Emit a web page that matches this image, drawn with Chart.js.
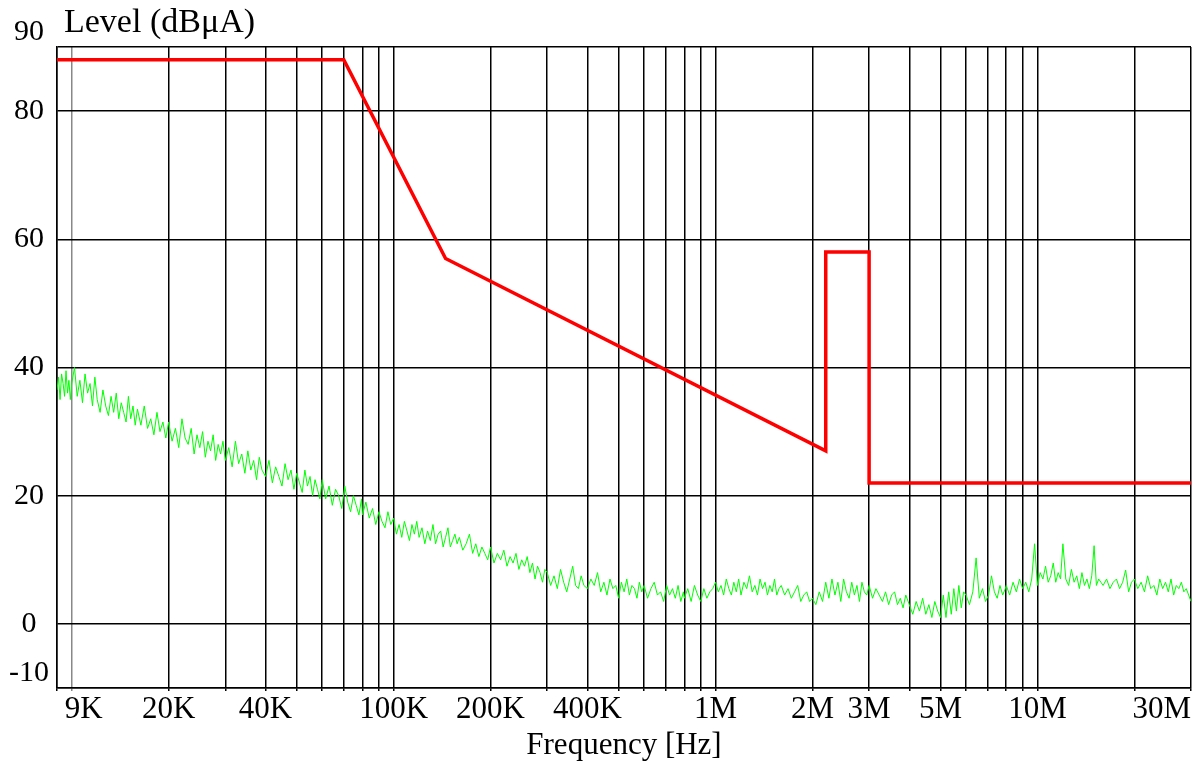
<!DOCTYPE html>
<html>
<head>
<meta charset="utf-8">
<script src="https://cdn.jsdelivr.net/npm/chart.js@4"></script>
<style>
  html, body { margin: 0; padding: 0; background: #fff; }
</style>
</head>
<body>
<canvas id="emi" width="1204" height="766"></canvas>
<script>
// texts
const yTitle = 'Level (dBμA)';
const xTitle = 'Frequency [Hz]';

// axis ticks
const xTickValues = [9e3, 2e4, 4e4, 1e5, 2e5, 4e5, 1e6, 2e6, 3e6, 5e6, 1e7, 3e7];
const xTickLabels = [' 9K', '20K', '40K', '100K', '200K', '400K', '1M', '2M', '3M', '5M', '10M', '30M'];
const yTickValues = [-10, 0, 20, 40, 60, 80, 90];

// limit line (red)
const limitFreq = [9e3, 70e3, 145e3, 2.2e6, 2.2e6, 3e6, 3e6, 30e6];
const limitLevel = [88, 88, 57, 27, 58, 58, 22, 22];

// measured scan (green), frequency in kHz
const scanFreqKHz = [
  9, 9.1, 9.2, 9.3, 9.4, 9.5, 9.6, 9.7, 9.8, 9.9,
  // 10K - 100K
  10, 10.2, 10.4, 10.6, 10.8, 11, 11.2, 11.4, 11.6, 11.8,
  12, 12.25, 12.5, 12.75, 13, 13.25, 13.5, 13.75, 14, 14.25, 14.5, 14.75, 15, 15.25, 15.5, 15.75,
  16, 16.4, 16.8, 17.2, 17.6, 18, 18.4, 18.8, 19.2, 19.6,
  20, 20.5, 21, 21.5, 22, 22.5, 23, 23.5, 24, 24.5, 25, 25.5, 26, 26.5, 27, 27.5, 28, 28.5, 29, 29.5,
  30, 30.75, 31.5, 32.25, 33, 33.75, 34.5, 35.25, 36, 36.75, 37.5, 38.25, 39,
  40, 41, 42, 43, 44, 45, 46, 47, 48, 49, 50, 51, 52, 53, 54, 55, 56, 57, 58, 59,
  60, 61.5, 63, 64.5, 66, 67.5, 69, 70.5, 72, 73.5, 75, 76.5, 78, 79.5,
  80, 82, 84, 86, 88, 90, 92, 94, 96, 98,
  // 100K - 1M
  100, 102, 104, 106, 108, 110, 112, 114, 116, 118,
  120, 122.5, 125, 127.5, 130, 132.5, 135, 137.5, 140, 142.5, 145, 147.5, 150, 152.5, 155, 157.5,
  160, 164, 168, 172, 176, 180, 184, 188, 192, 196,
  200, 205, 210, 215, 220, 225, 230, 235, 240, 245, 250, 255, 260, 265, 270, 275, 280, 285, 290, 295,
  300, 307.5, 315, 322.5, 330, 337.5, 345, 352.5, 360, 367.5, 375, 382.5, 390,
  400, 410, 420, 430, 440, 450, 460, 470, 480, 490, 500, 510, 520, 530, 540, 550, 560, 570, 580, 590,
  600, 615, 630, 645, 660, 675, 690, 705, 720, 735, 750, 765, 780, 795,
  800, 820, 840, 860, 880, 900, 920, 940, 960, 980,
  // 1M - 10M
  1000, 1020, 1040, 1060, 1080, 1100, 1120, 1140, 1160, 1180,
  1200, 1225, 1250, 1275, 1300, 1325, 1350, 1375, 1400, 1425, 1450, 1475, 1500, 1525, 1550, 1575,
  1600, 1640, 1680, 1720, 1760, 1800, 1840, 1880, 1920, 1960,
  2000, 2050, 2100, 2150, 2200, 2250, 2300, 2350, 2400, 2450, 2500, 2550, 2600, 2650, 2700, 2750, 2800, 2850, 2900, 2950,
  3000, 3075, 3150, 3225, 3300, 3375, 3450, 3525, 3600, 3675, 3750, 3825, 3900,
  4000, 4100, 4200, 4300, 4400, 4500, 4600, 4700, 4800, 4900, 5000, 5100, 5200, 5300, 5400, 5500, 5600, 5700, 5800, 5900,
  6000, 6150, 6300, 6450, 6600, 6750, 6900, 7050, 7200, 7350, 7500, 7650, 7800, 7950,
  8000, 8200, 8400, 8600, 8800, 9000, 9200, 9400, 9600, 9800,
  // 10M - 30M
  10000, 10200, 10400, 10600, 10800, 11000, 11200, 11400, 11600, 11800,
  12000, 12250, 12500, 12750, 13000, 13250, 13500, 13750, 14000, 14250, 14500, 14750, 15000, 15250, 15500, 15750,
  16000, 16400, 16800, 17200, 17600, 18000, 18400, 18800, 19200, 19600,
  20000, 20500, 21000, 21500, 22000, 22500, 23000, 23500, 24000, 24500, 25000, 25500, 26000, 26500, 27000, 27500, 28000, 28500, 29000, 29500, 30000
];
const scanLevel = [
  36.5, 38.5, 35, 39, 37.5, 35.5, 39.5, 36, 38, 35,
  // 10K - 100K
  37.5, 40, 35.5, 38, 34.5, 39, 36, 37.5, 34, 38.5,
  35, 33, 36.5, 34, 32.5, 35.5, 33, 36, 32, 34.5, 33, 31.5, 35.5, 32, 34, 31,
  33.5, 31, 34, 30.5, 32, 29.5, 33, 30, 31.5, 29,
  31.5, 28.5, 30.5, 27.5, 32, 29, 28, 30.5, 26.5, 29.5, 27.5, 30, 26, 28.5, 27, 29.5, 25.5, 28, 26.5, 28.5,
  25.5, 27.5, 24.5, 28.5, 25, 26.5, 23.5, 27, 24, 25.5, 22.5, 26, 24,
  23, 25.5, 22, 24.5, 23, 21.5, 25, 22.5, 24, 21, 23.5, 22, 20.5, 24, 21.5, 23, 20, 22.5, 21, 19.5,
  22.5, 19.5, 21.5, 18.5, 21, 20, 18, 21.5, 19, 17.5, 20, 18.5, 17, 19.5,
  17, 19, 16.5, 18, 15.5, 17.5, 16, 15, 17.5, 15.5,
  // 100K - 1M
  16.5, 14, 15.5, 13.5, 16, 14.5, 13, 15.5, 14, 16,
  13.5, 15, 12.5, 14.5, 13, 15.5, 12.5, 14, 14.5, 12, 13.5, 15, 12, 13, 14, 12.5,
  13.5, 11.5, 12.5, 14, 11, 12.5, 10.5, 12, 11, 10,
  12, 9.5, 11, 10, 11.5, 9, 10.5, 9.5, 11, 8.5, 10, 9, 10.5, 8, 9.5, 7, 9, 8, 6.5, 8.5,
  8, 6, 7.5, 5.5, 8.5, 6.5, 5, 7, 9, 6, 5.5, 7.5, 6,
  5.5, 7, 6, 8, 5, 6.5, 4.5, 7, 5.5, 6, 4, 6.5, 5, 7, 4.5, 6, 5.5, 4, 6.5, 5,
  6, 4, 5.5, 6.5, 4.5, 5, 3.5, 6, 4.5, 5.5, 4, 6, 3.5, 5,
  4, 5.5, 3.5, 6, 4.5, 3.5, 5.5, 4, 5, 5.5,
  // 1M - 10M
  6.5, 5, 6, 4.5, 7, 5.5, 4.5, 6.5, 5, 7,
  4.5, 6.5, 5.5, 7.5, 5, 6, 4.5, 7, 5.5, 6.5, 4.5, 6, 5, 7, 4.5, 5.5,
  6, 4.5, 5.5, 4, 5, 6, 3.5, 4.5, 5, 3.5,
  4, 3, 5, 3.5, 6.5, 4, 7, 4.5, 6.5, 3.5, 7, 5, 4, 6.5, 4.5, 6, 3.5, 6.5, 5, 4.5,
  6, 4, 5.5, 4.5, 3.5, 5, 3, 4.5, 5, 3, 4, 2.5, 4.5,
  3, 1.5, 3.5, 2, 4, 1.5, 3, 1, 3.5, 2, 1, 4.5, 1, 5, 1.5, 5.5, 2, 6, 2.5, 5,
  4.5, 3, 5, 10.3, 4, 5.5, 3.5, 4.5, 7.5, 5, 4, 6, 4.5, 5.5,
  6, 4.5, 6.5, 5, 7, 5.5, 6.5, 5, 7, 12.5,
  // 10M - 30M
  6, 8, 7, 9, 6.5, 7.5, 9.5, 6.5, 8, 7,
  12.5, 7, 6, 8.5, 6.5, 7.5, 5.5, 8, 6, 7, 5.5, 7.5, 12.2, 6, 7, 6.5,
  6, 7, 5.5, 6.5, 7, 5.5, 6.5, 8.4, 5, 6.5,
  7, 5.5, 6.5, 5, 7.5, 5.5, 6, 4.5, 7, 5.5, 6.5, 5, 7, 4.5, 6, 5.5, 6.5, 5, 5.5, 4.5, 3.5
];

const serif = 'Liberation Serif';

// every 1..9 x decade line between the axis ends
const xGridValues = [];
[1e3, 1e4, 1e5, 1e6, 1e7].forEach(d => {
  for (let m = 1; m <= 9; m++) {
    const v = m * d;
    if (v >= 9e3 && v <= 3e7) xGridValues.push(v);
  }
});

const levelTitle = {
  id: 'levelTitle',
  afterDraw(chart) {
    const ctx = chart.ctx;
    ctx.save();
    ctx.font = '34px "' + serif + '"';
    ctx.fillStyle = '#000';
    ctx.textBaseline = 'alphabetic';
    ctx.fillText(yTitle, chart.chartArea.left + 7, 32);
    ctx.restore();
  }
};

new Chart(document.getElementById('emi'), {
  type: 'line',
  data: {
    datasets: [{
      label: 'Limit',
      data: limitFreq.map((f, i) => ({x: f, y: limitLevel[i]})),
      borderColor: '#ff0000',
      borderWidth: 3.5,
      pointRadius: 0,
      fill: false
    }, {
      label: 'Scan',
      data: scanFreqKHz.map((f, i) => ({x: f * 1000, y: scanLevel[i]})),
      borderColor: '#00ff00',
      borderWidth: 1,
      pointRadius: 0,
      fill: false
    }]
  },
  options: {
    responsive: false,
    animation: false,
    layout: {padding: {left: 0, right: 13, top: 47, bottom: 0}},
    plugins: {
      legend: {display: false},
      tooltip: {enabled: false}
    },
    scales: {
      x: {
        type: 'logarithmic',
        min: 9e3,
        max: 3e7,
        afterBuildTicks: s => { s.ticks = xGridValues.map(v => ({value: v})); },
        afterFit: s => { s.height = 78; },
        ticks: {
          autoSkip: false,
          maxRotation: 0,
          minRotation: 0,
          align: 'inner',
          padding: 0,
          color: '#000',
          font: {family: serif, size: 31, lineHeight: 1.2},
          callback: v => {
            const i = xTickValues.indexOf(v);
            return i < 0 ? '' : xTickLabels[i];
          }
        },
        grid: {
          color: c => (c.tick && c.tick.value === 1e4) ? '#888' : '#000',
          lineWidth: 1.5,
          tickLength: 3
        },
        border: {color: '#000', width: 1.5},
        title: {
          display: true,
          text: xTitle,
          color: '#000',
          font: {family: serif, size: 31, lineHeight: 1.2},
          padding: {top: 0, bottom: 2}
        }
      },
      y: {
        min: -10,
        max: 90,
        afterBuildTicks: s => { s.ticks = yTickValues.map(v => ({value: v})); },
        afterFit: s => { s.width = 57; },
        ticks: {
          padding: 8,
          crossAlign: 'center',
          color: '#000',
          font: {family: serif, size: 30, lineHeight: 1},
          callback: v => (v === 90 || v === -10) ? [String(v), ''] : String(v)
        },
        grid: {color: '#000', lineWidth: 1.5, drawTicks: false},
        border: {color: '#000', width: 1.5}
      }
    }
  },
  plugins: [levelTitle]
});
</script>
</body>
</html>
